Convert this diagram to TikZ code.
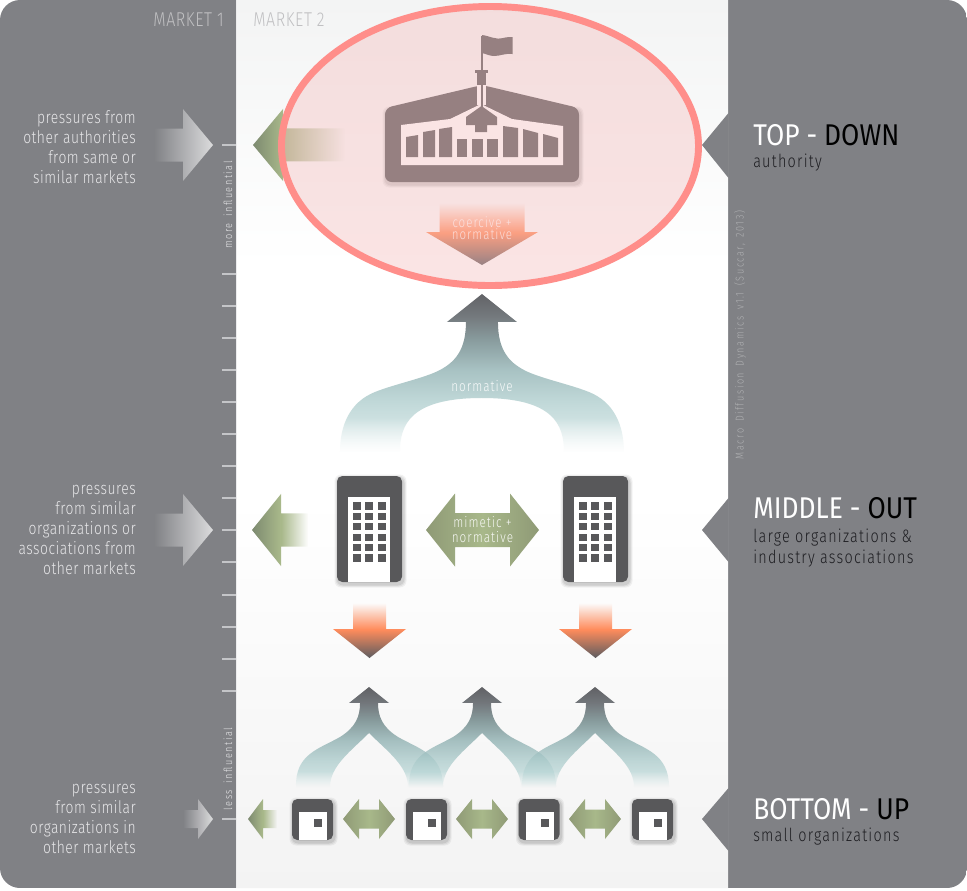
\documentclass[tikz,border=0pt]{standalone}
\usepackage{fontspec}
\setmainfont{Fira Sans Light}[FakeStretch=0.8,LetterSpace=3]
\newfontfamily\headfont{Fira Sans}[FakeStretch=0.88]
\newfontfamily\widefont{Fira Sans Light}[FakeStretch=0.8,LetterSpace=14,WordSpace=1.6]
\newfontfamily\midfont{Fira Sans Light}[FakeStretch=0.8,LetterSpace=7]
\usetikzlibrary{fadings,calc}
\definecolor{panelgray}{HTML}{808185}
\definecolor{darkbox}{HTML}{58585A}
\definecolor{ringred}{HTML}{FF8E8A}
\definecolor{ringfill}{HTML}{F4BCBC}
\definecolor{ticklight}{HTML}{C4C5C8}
\definecolor{lefttext}{HTML}{E6E6E8}
\definecolor{subdark}{HTML}{1E1E22}
\definecolor{gA}{HTML}{7D8A70}
\definecolor{gB}{HTML}{A8B88A}
\definecolor{gC}{HTML}{8F9A76}
\definecolor{oA}{HTML}{5C5C60}
\definecolor{oB}{HTML}{FF8C5C}
\definecolor{tA}{HTML}{626367}
\definecolor{tB}{HTML}{8A9EA0}
\definecolor{tC}{HTML}{A8C2C3}
\definecolor{tD}{HTML}{C0D8D8}
\definecolor{tE}{HTML}{E4F0F0}
\definecolor{tF}{HTML}{74797D}
\definecolor{sA}{RGB}{46,47,52}
\definecolor{sB}{RGB}{99,126,128}
\definecolor{sC}{RGB}{139,174,175}
\definecolor{sD}{RGB}{171,203,203}
\definecolor{sE}{RGB}{205,228,228}
\definecolor{sF}{RGB}{70,76,82}
\definecolor{bgtop}{HTML}{F3F4F4}
\definecolor{bgbot}{HTML}{F3F3F3}
\pgfdeclareverticalshading{panelbg}{100bp}{color(0bp)=(bgbot);color(25bp)=(bgbot);color(47bp)=(white);color(60bp)=(white);color(75bp)=(bgtop);color(100bp)=(bgtop)}
\pgfdeclarehorizontalshading{greenwide}{100bp}{color(0bp)=(gA);color(25bp)=(gA);color(41bp)=(gB);color(100bp)=(gB)}
\pgfdeclarehorizontalshading{greenshort}{100bp}{color(0bp)=(gA);color(25bp)=(gA);color(50bp)=(gB);color(100bp)=(gB)}
\pgfdeclarehorizontalshading{greendouble}{100bp}{color(0bp)=(gC);color(25bp)=(gC);color(50bp)=(gB);color(75bp)=(gC);color(100bp)=(gC)}
\pgfdeclareverticalshading{orangedown}{100bp}{color(0bp)=(oA);color(25bp)=(oA);color(51bp)=(oB);color(100bp)=(oB)}
\pgfdeclareverticalshading{tealup}{100bp}{color(0bp)=(tE);color(25bp)=(tE);color(41bp)=(tD);color(51bp)=(tC);color(60bp)=(tB);color(68bp)=(tF);color(75bp)=(tA);color(100bp)=(tA)}
\pgfdeclareverticalshading{tealsmall}{100bp}{color(0bp)=(sE);color(25bp)=(sE);color(38bp)=(sD);color(48bp)=(sC);color(58bp)=(sB);color(67bp)=(sF);color(75bp)=(sA);color(100bp)=(sA)}
\pgfdeclareverticalshading{fadeshade}{100bp}{color(0bp)=(black);color(25bp)=(black);color(36bp)=(white);color(100bp)=(white)}
\pgfdeclarefading{fadeup}{\pgfuseshading{fadeshade}}
\pgfdeclareverticalshading{fadeshadeS}{100bp}{color(0bp)=(black);color(25bp)=(black);color(33bp)=(white);color(100bp)=(white)}
\pgfdeclarefading{fadeupsmall}{\pgfuseshading{fadeshadeS}}
\pgfdeclareverticalshading{fadeshadeB}{100bp}{color(0bp)=(white);color(51bp)=(white);color(75bp)=(black);color(100bp)=(black)}
\pgfdeclarefading{fadetop}{\pgfuseshading{fadeshadeB}}
\pgfdeclarehorizontalshading{fadeshadeC}{100bp}{color(0bp)=(white);color(43bp)=(white);color(75bp)=(black);color(100bp)=(black)}
\pgfdeclarefading{fadewide}{\pgfuseshading{fadeshadeC}}
\pgfdeclarehorizontalshading{fadeshadeD}{100bp}{color(0bp)=(white);color(51bp)=(white);color(75bp)=(black);color(100bp)=(black)}
\pgfdeclarefading{fadeshort}{\pgfuseshading{fadeshadeD}}
\tikzset{
  lefttxt/.style={font=\fontsize{13}{15}\selectfont,text=lefttext,align=right,anchor=east,inner sep=0,text depth=0pt},
  onarrow/.style={font=\midfont\fontsize{11}{11.25}\selectfont,text=white,align=center,inner sep=0,opacity=.9},
  bigtxt/.style={anchor=base west,inner sep=0,font=\headfont\fontsize{22.5}{24}\selectfont},
  subtxt/.style={anchor=base west,inner sep=0,text=subdark,font=\midfont\fontsize{13.5}{15}\selectfont},
  vtxt/.style={rotate=90,inner sep=0,font=\widefont\fontsize{8.5}{9}\selectfont},
  tickline/.style={draw=ticklight,line width=1pt},
  markettxt/.style={inner sep=0,font=\fontsize{15}{15}\selectfont},
}
% shadow under a dark box
\newcommand{\softshadow}[4]{%
  \foreach \g/\o in {3.5/.05,2.5/.06,1.5/.08}{
    \fill[black,opacity=\o,rounded corners=5]
      ({#1+1-\g},{#2+2-\g}) rectangle ({#3+1+\g},{#4+2+\g});}}
% left pointing filled arrow: tip x, head base x, tail x, cy, head half, shaft half, shading, fading
\newcommand{\leftarrowshape}[8]{%
  \shade[shading=#7,path fading=#8] (#1,#4) -- (#2,{#4-#5}) -- (#2,{#4-#6}) -- (#3,{#4-#6}) -- (#3,{#4+#6}) -- (#2,{#4+#6}) -- (#2,{#4+#5}) -- cycle;}
\newcommand{\rightarrowshape}[6]{%
  \shade[left color=panelgray,right color=white!72!panelgray] (#1,#4) -- (#2,{#4-#5}) -- (#2,{#4-#6}) -- (#3,{#4-#6}) -- (#3,{#4+#6}) -- (#2,{#4+#6}) -- (#2,{#4+#5}) -- cycle;}
% double arrow: cx, cy, half length, head length, head half, shaft half
\newcommand{\doublearrow}[6]{%
  \shade[shading=greendouble] ({#1-#3},#2) -- ({#1-#3+#4},{#2-#5}) -- ({#1-#3+#4},{#2-#6}) -- ({#1+#3-#4},{#2-#6}) -- ({#1+#3-#4},{#2-#5}) -- ({#1+#3},#2) -- ({#1+#3-#4},{#2+#5}) -- ({#1+#3-#4},{#2+#6}) -- ({#1-#3+#4},{#2+#6}) -- ({#1-#3+#4},{#2+#5}) -- cycle;}
% orange down arrow: cx, top, head y, tip y, head half, shaft half
\newcommand{\orangearrow}[6]{%
  \shade[shading=orangedown,path fading=fadetop] ({#1-#6},#2) -- ({#1+#6},#2) -- ({#1+#6},#3) -- ({#1+#5},#3) -- (#1,#4) -- ({#1-#5},#3) -- ({#1-#6},#3) -- cycle;}
% small forked teal arrow with centre cx
\newcommand{\smallfork}[1]{%
  \shade[shading=tealsmall,path fading=fadeupsmall,opacity=.75]
   (#1,687) -- ({#1+20},703) -- ({#1+9},703)
   .. controls ({#1+9},716) and ({#1+13},727) .. ({#1+29},737)
   .. controls ({#1+50},749) and ({#1+74},754) .. ({#1+74},787)
   -- ({#1+39},787)
   .. controls ({#1+39},766) and ({#1+18},751) .. (#1,733)
   .. controls ({#1-18},751) and ({#1-39},766) .. ({#1-39},787)
   -- ({#1-73},787)
   .. controls ({#1-74},754) and ({#1-50},749) .. ({#1-29},737)
   .. controls ({#1-13},727) and ({#1-9},716) .. ({#1-9},703)
   -- ({#1-20},703) -- cycle;}
\newcommand{\tower}[1]{%
  \softshadow{#1}{476}{#1+65}{582}
  \fill[darkbox,rounded corners=4] (#1,476) rectangle ({#1+65},582);
  \fill[white] ({#1+11},497) rectangle ({#1+53},582);
  \foreach \cc in {0,1,2}{\foreach \rr in {0,...,5}{
    \fill[darkbox] ({#1+15.7+12.5*\cc},{502.3+10.4*\rr}) rectangle ({#1+23.7+12.5*\cc},{509.6+10.4*\rr});}}}
\newcommand{\smallhouse}[1]{%
  \softshadow{#1}{799}{#1+41}{840}
  \fill[darkbox,rounded corners=4] (#1,799) rectangle ({#1+41},840);
  \fill[white] ({#1+7},812) rectangle ({#1+35},840);
  \fill[darkbox] ({#1+22},819) rectangle ({#1+30},827);}
\begin{document}
\begin{tikzpicture}[x=0.75pt,y=-0.75pt]
\useasboundingbox (0,0) rectangle (967,890);
\fill[white] (0,0) rectangle (967,890);
\begin{scope}
  \clip[rounded corners=15pt] (0,0) rectangle (967,888);
  \fill[panelgray] (0,0) rectangle (967,888);
  \shade[shading=panelbg] (237,0) rectangle (728,888);
\end{scope}
\fill[white!85!panelgray] (236,0) rectangle (237,888);
% right notches
\fill[panelgray] (728.5,113) -- (702,145) -- (728.5,178) -- cycle;
\fill[panelgray] (728.5,498) -- (702,530) -- (728.5,562) -- cycle;
\fill[panelgray] (728.5,788) -- (702,819) -- (728.5,851) -- cycle;
% ticks
\foreach \ty in {145,274,306,338,370,402,434,466,498,530,562,595,627,659,691,819}{
  \draw[tickline] (222,\ty) -- (236,\ty);}
% left grey arrows
\rightarrowshape{213}{183}{154}{145}{36}{16.5}
\rightarrowshape{213}{183}{154}{530}{36}{16.5}
\rightarrowshape{213}{198}{183}{819}{20}{9}
% green outward arrows
\leftarrowshape{253}{283}{345}{145}{36}{16.5}{greenwide}{fadewide}
\leftarrowshape{252}{281}{308}{530}{36}{16.5}{greenshort}{fadeshort}
\leftarrowshape{248}{263}{277}{819}{20}{9}{greenshort}{fadeshort}
% parliament
\softshadow{385}{108}{579}{182}
\fill[darkbox,rounded corners=5] (385,182) -- (385,108) -- (482,85) -- (579,108) -- (579,182) -- cycle;
\fill[white] (401,125) -- (450,119) -- (481,104) -- (512,119) -- (563,126) -- (563,165) -- (401,165) -- cycle;
\fill[darkbox] (406,137) -- (418,135) -- (418,157) -- (406,157) -- cycle;
\fill[darkbox] (423,132) -- (435,130) -- (435,157) -- (423,157) -- cycle;
\fill[darkbox] (439,129) -- (452,127) -- (452,157) -- (439,157) -- cycle;
\fill[darkbox] (457,139) rectangle (467,157);
\fill[darkbox] (472,139) rectangle (483,157);
\fill[darkbox] (487,139) rectangle (498,157);
\fill[darkbox] (503,126) -- (518,128) -- (518,157) -- (503,157) -- cycle;
\fill[darkbox] (523,129) -- (538,133) -- (538,157) -- (523,157) -- cycle;
\fill[darkbox] (543,134) -- (558,138) -- (558,157) -- (543,157) -- cycle;
\fill[darkbox] (466,117) -- (481.5,106) -- (497,117) -- (497,125) -- (487,125) -- (487,132) -- (475,132) -- (475,125) -- (466,125) -- cycle;
\draw[darkbox,line width=.7pt] (452,117) -- (474,106);
\draw[darkbox,line width=.7pt] (510,117) -- (489,106);
\fill[white] (477,85) rectangle (486,105);
\fill[darkbox] (477,72) rectangle (486,85);
\fill[darkbox] (475,69.5) rectangle (488,73);
\draw[darkbox,line width=1.5pt] (481.5,36) -- (481.5,113);
\fill[darkbox] (482,35) .. controls (490,36) and (495,40) .. (503,38) .. controls (507,37) and (510,37) .. (512.5,37) -- (512.5,54) .. controls (506,53) and (500,56) .. (494,56) .. controls (490,56) and (486,54) .. (482,53) -- cycle;
% coercive arrow
\orangearrow{482}{203}{232}{265}{56}{42.5}
\node[onarrow,font=\midfont\fontsize{10.8}{9.4}\selectfont] (coercive) at (482,228) {coercive +\\normative};
% normative fork
\shade[shading=tealup,path fading=fadeup]
  (482,294) -- (517,322) -- (498,322)
  .. controls (498,350) and (509,362) .. (524,370)
  .. controls (539,378) and (569,384) .. (589,392)
  .. controls (614,402) and (624,425) .. (624,452)
  -- (564,452)
  .. controls (564,425) and (554,398) .. (482,398)
  .. controls (410,398) and (400,425) .. (400,452)
  -- (340,452)
  .. controls (340,425) and (350,402) .. (375,392)
  .. controls (395,384) and (425,378) .. (440,370)
  .. controls (455,362) and (466,350) .. (466,322)
  -- (447,322) -- cycle;
\node[onarrow] (normativelbl) at (482,386) {normative};
% middle row
\tower{337}
\tower{563}
\doublearrow{482.5}{530}{56.5}{29}{36.5}{17}
\node[onarrow] (mimetic) at (482.5,530) {mimetic +\\normative};
\orangearrow{369.5}{603}{629}{658}{36.5}{16.5}
\orangearrow{595.5}{603}{629}{658}{36.5}{16.5}
% small forks
\smallfork{369}
\smallfork{482}
\smallfork{595}
% bottom row
\smallhouse{292}
\smallhouse{406}
\smallhouse{518.5}
\smallhouse{632}
\doublearrow{369}{819}{26}{16}{20}{9.5}
\doublearrow{482}{819}{26}{16}{20}{9.5}
\doublearrow{595}{819}{26}{16}{20}{9.5}
% highlight ellipse
\fill[ringfill,opacity=.4] (490,146) ellipse [x radius=208.5,y radius=139.5];
\draw[ringred,line width=5.2pt] (490,146) ellipse [x radius=208.5,y radius=139.5];
% market labels
\node[markettxt,text=white!50!panelgray,anchor=east] (market1) at (224,20) {MARKET 1};
\node[markettxt,text=white!50!panelgray,anchor=west] (market2) at (253,20) {MARKET 2};
% left labels
\node[lefttxt] (lblA) at (136,147) {pressures from\\other authorities\\from same or\\similar markets};
\node[lefttxt] (lblB) at (136,530) {pressures\\from similar\\organizations or\\associations from\\other markets};
\node[lefttxt] (lblC) at (136,819) {pressures\\from similar\\organizations in\\other markets};
% vertical labels
\node[vtxt,text=lefttext] (moreinf) at (228,205) {more influential};
\node[vtxt,text=lefttext] (lessinf) at (228,769) {less influential};
\node[vtxt,text=white!38!panelgray] (credit) at (740,335) {Macro Diffusion Dynamics v1.1 (Succar, 2013)};
% right labels
\node[bigtxt] (topdown) at (753,145) {\textcolor{white}{TOP -} \textcolor{black}{DOWN}};
\node[subtxt] (authority) at (753,167) {authority};
\node[bigtxt] (middleout) at (753,518) {\textcolor{white}{MIDDLE -} \textcolor{black}{OUT}};
\node[subtxt] (largeorg) at (753,542) {large organizations \&};
\node[subtxt] (industry) at (753,563) {industry associations};
\node[bigtxt] (bottomup) at (753,819) {\textcolor{white}{BOTTOM -} \textcolor{black}{UP}};
\node[subtxt] (smallorg) at (753,841) {small organizations};
\end{tikzpicture}
\end{document}
